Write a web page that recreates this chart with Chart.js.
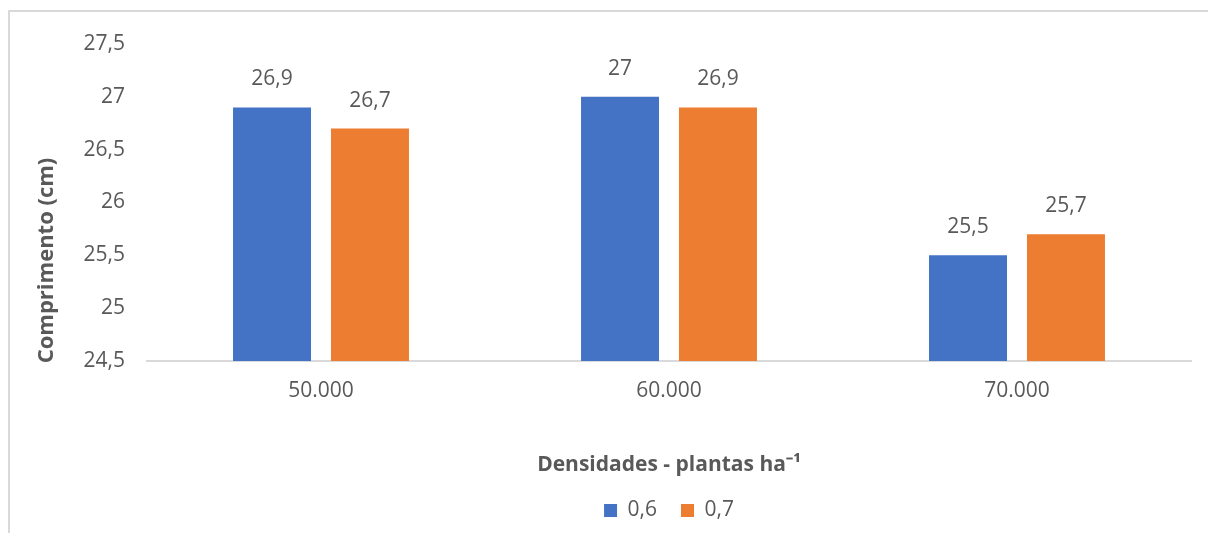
<!DOCTYPE html>
<html>
<head>
<meta charset="utf-8">
<script src="https://cdn.jsdelivr.net/npm/chart.js@4"></script>
<style>
  html, body { margin: 0; padding: 0; background: #fff; }
  #wrap { position: relative; width: 1208px; height: 533px; overflow: hidden; }
  #frame {
    position: absolute; left: 8px; top: 10px; width: 1400px; height: 700px;
    border-top: 2px solid #d9d9d9; border-left: 2px solid #d9d9d9;
    pointer-events: none;
  }
  canvas { position: absolute; left: 0; top: 0; }
</style>
</head>
<body>
<div id="wrap">
  <canvas id="chart" width="1208" height="533"></canvas>
  <div id="frame"></div>
</div>
<script>
const densidades = ['50.000', '60.000', '70.000'];
const serie06 = [26.9, 27.0, 25.5];
const serie07 = [26.7, 26.9, 25.7];
const yTicks = [24.5, 25, 25.5, 26, 26.5, 27, 27.5];

const FONT = "'Open Sans', 'Liberation Sans', sans-serif";
const GRAY = '#595959';
const fmt = v => String(v).replace('.', ',');

// value labels above each bar
const barLabels = {
    id: 'barLabels',
    afterDatasetsDraw(chart) {
        const ctx = chart.ctx;
        ctx.save();
        ctx.font = `21px ${FONT}`;
        ctx.fillStyle = GRAY;
        ctx.textAlign = 'center';
        ctx.textBaseline = 'middle';
        chart.data.datasets.forEach((ds, i) => {
            chart.getDatasetMeta(i).data.forEach((bar, j) => {
                ctx.fillText(fmt(ds.data[j]), bar.x, bar.y - 28);
            });
        });
        ctx.restore();
    }
};

// vertical axis title, sitting a bit below the plot's middle
const yTitle = {
    id: 'yTitle',
    afterDraw(chart) {
        const { ctx, chartArea } = chart;
        ctx.save();
        ctx.translate(chartArea.left - 100, (chartArea.top + chartArea.bottom) / 2 + 58);
        ctx.rotate(-Math.PI / 2);
        ctx.font = `bold 22px ${FONT}`;
        ctx.fillStyle = GRAY;
        ctx.textAlign = 'center';
        ctx.textBaseline = 'middle';
        ctx.fillText('Comprimento (cm)', 0, 0);
        ctx.restore();
    }
};

// keep the legend centred under the plot area
const legendUnderPlot = {
    id: 'legendUnderPlot',
    afterLayout(chart) {
        if (!chart.legend) return;
        chart.legend.left = chart.chartArea.left;
        chart.legend.right = chart.chartArea.right;
    }
};

new Chart(document.getElementById('chart'), {
    type: 'bar',
    data: {
        labels: densidades,
        datasets: [
            { label: '0,6', data: serie06, backgroundColor: '#4472C4' },
            { label: '0,7', data: serie07, backgroundColor: '#ED7D31' }
        ]
    },
    options: {
        responsive: false,
        animation: false,
        layout: { padding: { top: 44, right: 17, bottom: 2, left: 0 } },
        datasets: {
            bar: { barPercentage: 0.796, categoryPercentage: 0.563 }
        },
        plugins: {
            legend: {
                position: 'bottom',
                labels: {
                    font: { family: FONT, size: 21 },
                    color: GRAY,
                    boxWidth: 13,
                    boxHeight: 13,
                    padding: 24
                }
            },
            tooltip: { enabled: false }
        },
        scales: {
            x: {
                grid: { display: false, drawTicks: false },
                border: { color: '#d9d9d9', width: 2 },
                ticks: { color: GRAY, font: { family: FONT, size: 21 }, padding: 17 },
                title: {
                    display: true,
                    text: 'Densidades - plantas ha⁻¹',
                    color: GRAY,
                    font: { family: FONT, size: 21, weight: 'bold' },
                    padding: { top: 0, bottom: -2 }
                },
                afterFit(scale) { scale.height = 115; }
            },
            y: {
                min: 24.5,
                max: 27.5,
                grid: { display: false, drawTicks: false },
                border: { display: false },
                afterBuildTicks(scale) { scale.ticks = yTicks.map(v => ({ value: v })); },
                ticks: {
                    color: GRAY,
                    font: { family: FONT, size: 21 },
                    padding: 22,
                    callback: v => fmt(v)
                },
                afterFit(scale) { scale.width = 147; }
            }
        }
    },
    plugins: [barLabels, yTitle, legendUnderPlot]
});
</script>
</body>
</html>
